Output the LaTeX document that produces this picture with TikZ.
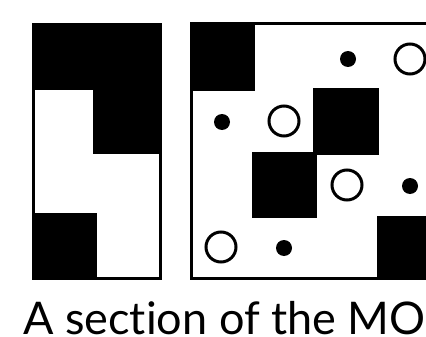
\documentclass[tikz,border=0pt]{standalone}
\usepackage{fontspec}
\setmainfont[Ligatures=NoCommon]{Lato}
\tikzset{
  blk/.style={fill=black},
  frame/.style={draw=black,line width=3pt},
  ring/.style={draw=black,line width=3pt,fill=white},
  dot/.style={fill=black}
}
\begin{document}
\begin{tikzpicture}[x=1pt,y=-1pt]
\useasboundingbox (0,0) rectangle (426,337);
\begin{scope}
\clip (0,0) rectangle (426,337);
% left panel
\fill[blk] (33,25) rectangle (160,90);
\fill[blk] (93,88) rectangle (160,154);
\fill[blk] (33,213) rectangle (97,278);
\draw[frame] (33,25) rectangle (160,278);
% right panel
\fill[blk] (191,24) rectangle (255,91);
\fill[blk] (313,88) rectangle (379,155);
\fill[blk] (252,152) rectangle (317,218);
\fill[blk] (377,216) rectangle (440,278);
\draw[frame] (191,24) rectangle (450,278);
% circles
\fill[dot] (348,59) circle (8);
\draw[ring] (410,59) circle (15);
\fill[dot] (222,122) circle (8);
\draw[ring] (284,121) circle (15);
\draw[ring] (347,185) circle (15);
\fill[dot] (410,186) circle (8);
\draw[ring] (221,247) circle (15);
\fill[dot] (284,248) circle (8);
% caption
\node[anchor=base west,inner sep=0pt,font=\fontsize{45}{45}\selectfont] (cap) at (23,334) {A section of the MOC};
\end{scope}
\end{tikzpicture}
\end{document}
